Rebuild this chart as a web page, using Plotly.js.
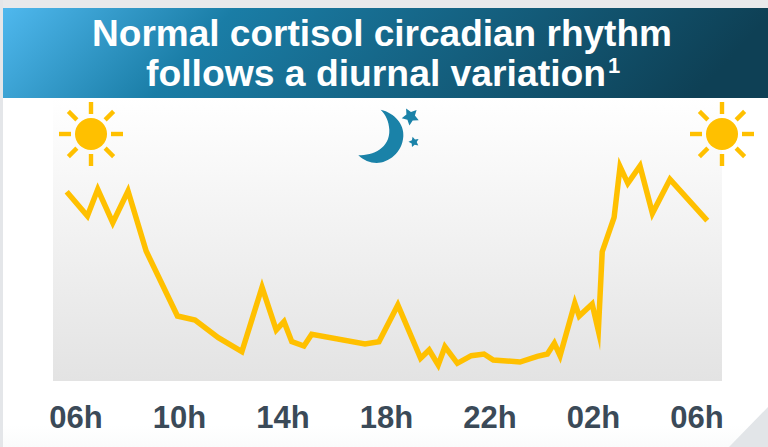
<!DOCTYPE html>
<html><head><meta charset="utf-8">
<script src="https://cdn.plot.ly/plotly-3.0.1.min.js"></script>
<style>html,body{margin:0;padding:0;background:#fff;overflow:hidden}#c{width:768px;height:447px}
.js-line{stroke-linejoin:miter !important;stroke-miterlimit:8 !important;stroke-linecap:butt !important}</style>
</head><body><div id="c"></div>
<script>
var hours = [5.64,6.44,6.84,7.42,8.01,8.71,9.92,10.60,11.50,12.41,13.19,13.74,14.04,14.34,14.81,15.11,17.17,17.71,18.44,19.32,19.65,20.00,20.26,20.74,21.28,21.77,22.13,23.16,23.83,24.22,24.49,24.71,25.28,25.45,25.95,26.19,26.34,26.80,27.03,27.33,27.80,28.28,28.96,30.40];
var cortisol = [18.93,16.5,19.17,15.83,19.0,13.0,6.5,6.1,4.33,2.93,9.37,5.1,5.93,3.93,3.5,4.67,3.7,3.93,7.6,2.27,3.1,1.6,3.43,1.77,2.53,2.7,2.1,1.9,2.47,2.7,3.77,2.53,7.77,6.5,7.7,5.03,12.93,16.37,21.43,19.77,21.5,16.77,20.17,16.03];
var tickHours = [6,10,14,18,22,26,30];
var tickLabels = ['06h','10h','14h','18h','22h','02h','06h'];
var titleLine1 = 'Normal cortisol circadian rhythm';
var titleLine2 = 'follows a diurnal variation';
var titleNote = '1';

function sun(cx,cy){
  var s='<circle cx="'+cx+'" cy="'+cy+'" r="16" fill="#FFC000"/>';
  for(var i=0;i<8;i++){
    s+='<rect x="'+(cx-2.2)+'" y="'+(cy-32)+'" width="4.4" height="12" fill="#FFC000" transform="rotate('+(i*45)+' '+cx+' '+cy+')"/>';
  }
  return s;
}
function star(cx,cy,R,rot){
  var p=[];
  for(var i=0;i<10;i++){
    var r=i%2?R*0.5:R, a=(rot+i*36-90)*Math.PI/180;
    p.push((cx+r*Math.cos(a)).toFixed(1)+','+(cy+r*Math.sin(a)).toFixed(1));
  }
  return '<polygon points="'+p.join(' ')+'" fill="#1A82A8"/>';
}
var deco='<svg xmlns="http://www.w3.org/2000/svg" width="768" height="447" viewBox="0 0 768 447">'+
 '<defs><linearGradient id="b" x1="0" y1="0" x2="1" y2="0.11"><stop offset="0" stop-color="#4FB8EE"/><stop offset="0.3" stop-color="#1A7DA6"/><stop offset="1" stop-color="#0E4055"/></linearGradient>'+
 '<linearGradient id="p" x1="0" y1="0" x2="0" y2="1"><stop offset="0" stop-color="#FFFFFF"/><stop offset="1" stop-color="#E3E3E3"/></linearGradient>'+
 '<linearGradient id="g" x1="0" y1="0" x2="0" y2="1"><stop offset="0" stop-color="#FFFFFF"/><stop offset="1" stop-color="#FAFBFB"/></linearGradient></defs>'+
 '<rect width="768" height="447" fill="#fff"/>'+
 '<rect y="425" width="768" height="22" fill="url(#g)"/>'+
 '<rect width="768" height="8" fill="#E8E9EB"/><rect width="3" height="447" fill="#E4E6E9"/>'+
 '<polygon points="768,407 768,447 729,447" fill="#E2E5E8"/>'+
 '<rect x="3" y="8" width="765" height="90" fill="url(#b)"/>'+
 '<rect x="53" y="98" width="669" height="283" fill="url(#p)"/>'+
 sun(91,134)+sun(722,134)+
 '<path transform="translate(345,98) scale(0.3333)" d="M107,35 C150,45 178,80 175,115 C172,165 130,195 95,195 C75,195 55,187 40,172 C85,172 135,150 133,95 C132,70 122,50 107,35 Z" fill="#1A82A8"/>'+
 star(410.5,116.5,9,-29)+star(414,142,5.5,-15)+
 '</svg>';
var decoUri='data:image/svg+xml;charset=utf-8,'+encodeURIComponent(deco);
var fam='"Liberation Sans",Arial,sans-serif';

Plotly.newPlot('c',[{
  x:hours,y:cortisol,type:'scatter',mode:'lines',
  line:{color:'#FFC000',width:5.5,shape:'linear'},
  hoverinfo:'skip',showlegend:false
}],{
  width:768,height:447,
  margin:{l:0,r:0,t:0,b:0,pad:0},
  paper_bgcolor:'#fff',plot_bgcolor:'rgba(0,0,0,0)',
  showlegend:false,
  title:{text:titleLine1,x:382/768,xanchor:'center',y:1-33/447,yanchor:'middle',font:{family:fam,size:37,color:'#fff',weight:700}},
  annotations:[
   {text:titleLine2,xref:'paper',yref:'paper',x:376/768,y:1-73/447,xanchor:'center',yanchor:'middle',showarrow:false,font:{family:fam,size:37.3,color:'#fff',weight:700}},
   {text:titleNote,xref:'paper',yref:'paper',x:613.5/768,y:1-65.5/447,xanchor:'center',yanchor:'middle',showarrow:false,font:{family:fam,size:22,color:'#fff',weight:700}}
  ],
  xaxis:{domain:[53/768,722/768],range:[5.11,30.97],tickvals:tickHours,ticktext:tickLabels,
    showgrid:false,zeroline:false,showline:false,ticks:'outside',ticklen:9,tickcolor:'rgba(0,0,0,0)',
    tickfont:{family:fam,size:31,color:'#3B4A58',weight:700},automargin:false},
  yaxis:{domain:[(447-381)/447,(447-98)/447],range:[0,28.3],showgrid:false,zeroline:false,showline:false,
    showticklabels:false,ticks:'',automargin:false},
  images:[{source:decoUri,xref:'paper',yref:'paper',x:0,y:1,sizex:1,sizey:1,xanchor:'left',yanchor:'top',sizing:'stretch',layer:'below'}]
},{displayModeBar:false,staticPlot:true});
</script></body></html>
